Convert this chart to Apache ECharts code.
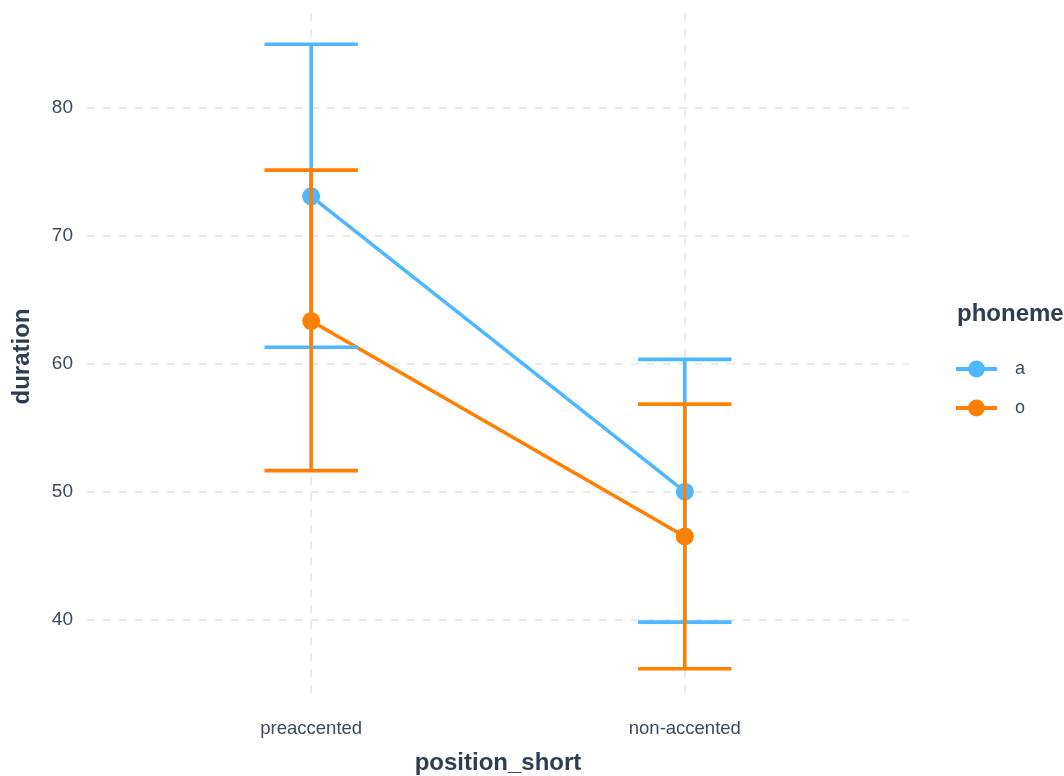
<!DOCTYPE html>
<html>
<head>
<meta charset="utf-8">
<script src="https://cdn.jsdelivr.net/npm/echarts@6/dist/echarts.min.js"></script>
<style>
  html, body { margin: 0; padding: 0; background: #ffffff; }
  #chart { width: 1064px; height: 776px; }
</style>
</head>
<body>
<div id="chart"></div>
<script>
// Categories on the x axis and group names
const categories = ['preaccented', 'non-accented'];
const phonemes = ['a', 'o'];

// Mean duration per position, with lower / upper error bounds
const meanA = [73.1, 50.0];
const lowA  = [61.3, 39.8];
const highA = [85.0, 60.35];

const meanO = [63.35, 46.5];
const lowO  = [51.65, 36.15];
const highO = [75.15, 56.85];

const yTicks = [40, 50, 60, 70, 80];

const colors = { a: '#4db8ff', o: '#ff7f00' };
const textColor = '#3b4a5c';
const titleColor = '#2e3d50';
const gridColor = '#e6e6e6';
const fontFamily = 'Liberation Sans, Arial, sans-serif';

const xPos = categories.map((c, i) => i + 1);

function pts(means) { return means.map((m, i) => [xPos[i], m]); }
function bars(lows, highs) { return lows.map((l, i) => [xPos[i], l, highs[i]]); }

// vertical whisker with a cap at each end
function errorBarRender(color) {
  return function (params, api) {
    const x = api.value(0);
    const lo = api.coord([x, api.value(1)]);
    const hi = api.coord([x, api.value(2)]);
    const half = api.size([0.125, 0])[0];
    const style = { stroke: color, lineWidth: 3.6, fill: null };
    return {
      type: 'group',
      children: [
        { type: 'line', shape: { x1: lo[0], y1: lo[1], x2: hi[0], y2: hi[1] }, style },
        { type: 'line', shape: { x1: hi[0] - half, y1: hi[1], x2: hi[0] + half, y2: hi[1] }, style },
        { type: 'line', shape: { x1: lo[0] - half, y1: lo[1], x2: lo[0] + half, y2: lo[1] }, style }
      ]
    };
  };
}

// y range padded 5% beyond the error bars
const allVals = lowA.concat(highA, lowO, highO);
const dMin = Math.min(...allVals), dMax = Math.max(...allVals);
const pad = (dMax - dMin) * 0.05;

const chart = echarts.init(document.getElementById('chart'), null, { renderer: 'canvas' });

const lineSeries = (name, means) => ({
  name,
  type: 'line',
  data: pts(means),
  symbol: 'circle',
  symbolSize: 18,
  showSymbol: true,
  lineStyle: { width: 3.6, color: colors[name] },
  itemStyle: { color: colors[name] },
  emphasis: { disabled: true },
  z: 2,
  animation: false
});

const barSeries = (name, lows, highs) => ({
  name,
  type: 'custom',
  data: bars(lows, highs),
  renderItem: errorBarRender(colors[name]),
  encode: { x: 0, y: [1, 2] },
  z: 3,
  animation: false
});

chart.setOption({
  animation: false,
  textStyle: { fontFamily },
  grid: { left: 87, right: 155, top: 13, bottom: 76, containLabel: false, outerBoundsMode: 'none' },
  legend: {
    orient: 'vertical',
    left: 949,
    top: 355,
    itemWidth: 41,
    itemHeight: 21,
    itemGap: 21,
    data: phonemes,
    lineStyle: { width: 4 },
    textStyle: { color: textColor, fontSize: 18, padding: [0, 0, 0, 13] },
    selectedMode: false
  },
  graphic: [{
    type: 'text',
    left: 957,
    top: 302,
    style: { text: 'phoneme', fill: titleColor, font: 'bold 24px ' + fontFamily }
  }],
  xAxis: {
    type: 'value',
    min: 0.4,
    max: 2.6,
    name: 'position_short',
    nameLocation: 'middle',
    nameGap: 51,
    nameTextStyle: { color: titleColor, fontSize: 24, fontWeight: 'bold' },
    axisLine: { show: false },
    axisTick: { show: false, customValues: xPos },
    axisLabel: {
      customValues: xPos,
      formatter: v => categories[Math.round(v) - 1] || '',
      color: textColor,
      fontSize: 18.5,
      margin: 19
    },
    splitLine: { show: true, lineStyle: { color: gridColor, width: 1.5, type: [8, 8] } }
  },
  yAxis: {
    type: 'value',
    min: dMin - pad,
    max: dMax + pad,
    name: 'duration',
    nameLocation: 'middle',
    nameGap: 53,
    nameRotate: 90,
    nameTextStyle: { color: titleColor, fontSize: 24, fontWeight: 'bold' },
    axisLine: { show: false },
    axisTick: { show: false, customValues: yTicks },
    axisLabel: { customValues: yTicks, color: textColor, fontSize: 19, margin: 14 },
    splitLine: { show: true, lineStyle: { color: gridColor, width: 1.5, type: [8, 8] } }
  },
  series: [
    lineSeries('a', meanA),
    lineSeries('o', meanO),
    barSeries('a', lowA, highA),
    barSeries('o', lowO, highO)
  ]
});
</script>
</body>
</html>
